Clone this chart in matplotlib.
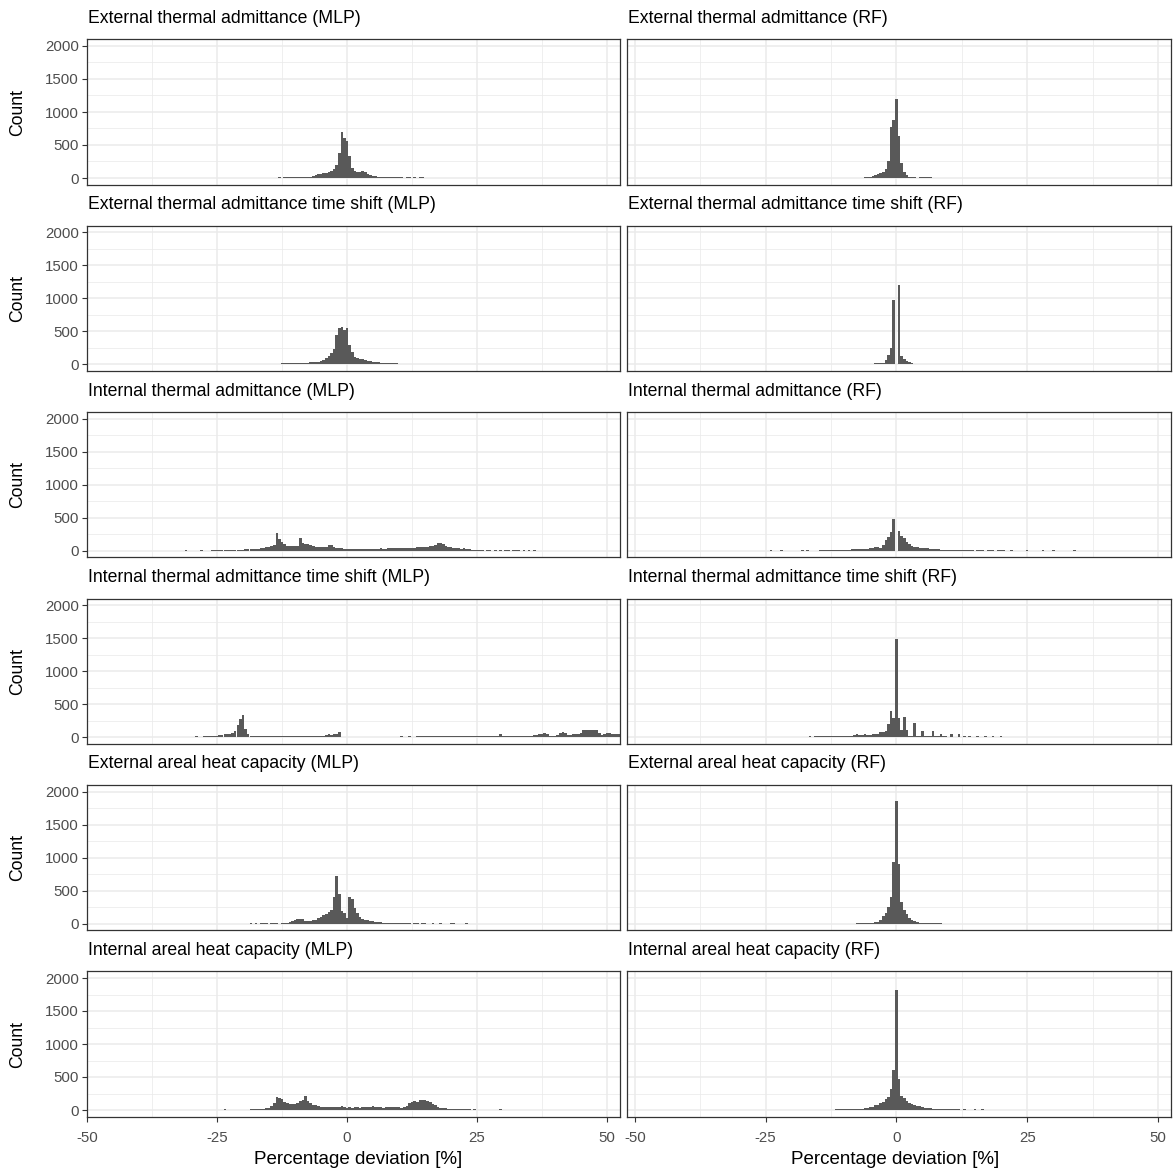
import matplotlib.pyplot as plt
import numpy as np

plt.rcParams["font.family"] = ["Liberation Sans", "DejaVu Sans"]
plt.rcParams["axes.unicode_minus"] = False

# histogram counts, bins 0.5 wide centred on multiples of 0.5
BIN = 0.5

titles = [
    "External thermal admittance (MLP)", "External thermal admittance (RF)",
    "External thermal admittance time shift (MLP)", "External thermal admittance time shift (RF)",
    "Internal thermal admittance (MLP)", "Internal thermal admittance (RF)",
    "Internal thermal admittance time shift (MLP)", "Internal thermal admittance time shift (RF)",
    "External areal heat capacity (MLP)", "External areal heat capacity (RF)",
    "Internal areal heat capacity (MLP)", "Internal areal heat capacity (RF)",
]

# first bin centre of every panel
starts = [-13.0, -6.0, -22.0, -10.5, -31.0, -24.0, -36.0, -24.5, -18.5, -7.5, -23.5, -11.5]

ext_adm_mlp = [8, 0, 8, 10, 8, 10, 12,
               12, 14, 15, 16, 18, 22,
               35, 45, 55, 62, 70,
               80, 95, 110, 130,
               200, 380, 690, 610, 560, 330, 150,
               100, 88, 95, 100, 85, 60, 40,
               30, 25, 20, 15, 14, 12, 12,
               10, 12, 10, 12, 10,
               0, 10, 12, 0, 10, 0, 12, 10]

ext_adm_rf = [8, 10, 15, 30, 45, 65, 80, 95, 130, 250, 780, 880, 1190,
              640, 230, 90, 40, 15, 10, 8, 0, 10, 12, 10, 12, 8]

ext_ts_mlp = [8, 0, 8, 0, 10, 0, 8, 10, 10,
              10, 12, 10, 12, 10, 12, 12, 12, 12,
              12, 14, 15, 16, 18, 18, 20, 22, 20, 24, 25,
              28, 30, 32, 35, 40, 48,
              70, 100, 130, 170, 240, 450, 545, 560, 520, 545, 290, 190,
              110, 95, 85, 75, 65, 58, 50, 42, 36, 32, 28, 25, 22, 20,
              18, 15, 14, 12, 12, 10, 10, 10, 8, 10, 8, 10, 0, 8, 10, 0, 8, 8,
              0, 8, 0, 8, 0, 8]

ext_ts_rf = [8, 0, 8, 8, 0, 8, 10, 10, 10, 10, 10, 12, 12, 14, 15,
             15, 25, 60, 140, 245, 975, 0, 1210, 125, 88, 45, 30, 15,
             12, 12, 10, 10, 10, 10, 10, 8, 8, 8, 8, 8, 0, 8, 8, 0, 8, 8, 8]

int_adm_mlp = [10, 0, 0, 0, 0, 0, 10, 0, 0, 0,
               8, 10, 10, 10, 12, 10, 12, 14, 12, 15,
               12, 14, 18, 20, 22, 25, 25, 28, 30, 35,
               45, 55, 62, 75, 90, 265, 175, 140, 105, 80,
               78, 75, 72, 80, 190, 120, 100, 105, 95, 70,
               65, 60, 55, 55, 60, 95, 85, 55, 45, 40,
               35, 30, 28, 30, 28, 32, 30, 28, 30, 32,
               30, 32, 28, 30, 32, 35, 32, 30, 35, 38,
               35, 38, 40, 38, 40, 45, 42, 48, 50, 55,
               58, 62, 55, 65, 70, 80, 95, 125, 120, 100,
               75, 65, 55, 50, 35, 40, 30, 35, 25, 30,
               15, 10, 10, 8, 10, 0, 8, 10, 0, 8,
               0, 10, 0, 8, 10, 0, 8, 10, 8, 0, 8,
               0, 10, 0, 8]

int_adm_rf = [10, 0, 0, 0, 10, 0, 0, 0, 0, 0,
              0, 0, 10, 0, 10, 0, 0, 0, 0, 10,
              10, 10, 10, 12, 12, 12, 14, 15, 16, 18,
              15, 20, 25, 22, 28, 30, 28, 32, 35, 45,
              60, 55, 48, 85, 160, 215, 290, 485, 0, 300,
              230, 190, 140, 100, 80, 60, 55, 50, 45, 38,
              35, 32, 28, 22, 20, 18, 15, 14, 12, 12,
              10, 10, 10, 10, 8, 10, 8, 10, 0, 10,
              8, 10, 0, 10, 10, 8, 0, 10, 8, 10,
              0, 0, 10, 0, 0, 0, 0, 0, 10, 0,
              0, 0, 0, 0, 10, 0, 0, 0, 8, 0,
              0, 0, 0, 0, 0, 0, 8]

int_ts_mlp = [8, 0, 8, 10, 0, 8, 10, 8, 0, 10, 10, 10, 8, 10, 12, 10,
              10, 12, 12, 14, 15, 20,
              25, 28, 40, 48, 50, 55,
              65, 90, 190, 280, 335, 130, 45, 25, 20, 22,
              20, 18, 22, 20, 25, 20, 18, 22, 20, 18,
              20, 18, 22, 20, 15, 18, 15, 15, 12, 15,
              12, 15, 12, 12, 15, 20, 40, 45, 40, 45,
              50, 85, 10, 8, 0, 10, 8,
              0, 8, 10, 0, 8, 10, 8, 0, 10, 8,
              10, 10, 0, 10, 10, 10, 8, 10, 12, 10,
              10, 12, 10, 10, 12, 12, 12, 12, 14, 12,
              14, 12, 14, 15, 14, 15, 14, 15, 18, 15,
              14, 15, 18, 15, 18, 14, 15, 18, 15, 20,
              15, 18, 15, 18, 14, 15, 45, 15, 18, 15,
              14, 15, 18, 20, 18, 22, 20, 25, 22, 28,
              35, 50, 55, 65, 45, 25, 22, 25, 40, 60,
              75, 60, 40, 35, 45, 50, 55, 60, 110, 115,
              115, 110, 112, 105, 60, 40, 55, 60,
              58, 55, 50, 48, 45]

int_ts_rf = [8, 8, 8, 0, 8, 10, 8, 10, 8, 10,
             10, 10, 10, 10, 10, 10, 12, 10, 12, 12,
             25, 12, 14, 12, 14, 15, 14, 15, 15, 18,
             15, 20, 22, 28, 50, 30, 35, 50, 40, 35,
             45, 50, 55, 75, 80, 95, 200, 390, 285, 1490,
             285, 105, 300, 105, 25, 20, 210, 25, 15, 90,
             15, 14, 12, 90, 15, 14, 55, 12, 12, 10,
             55, 10, 10, 45, 10, 25, 10, 25, 10, 10,
             25, 10, 8, 25, 8, 10, 12, 10, 8, 12,
             8, 10, 8, 10, 8, 8, 10, 8, 8, 10,
             8, 8, 10, 8, 8, 8, 8, 8, 8, 8,
             8, 8, 0, 8, 8, 8, 0, 8]

ext_ahc_mlp = [8, 0, 8, 0, 8, 10, 8, 0, 8, 10, 8, 0,
               10, 12, 15, 25, 35, 60, 65, 70, 72, 40,
               35, 45, 55, 62, 85, 100, 125, 145, 180, 200,
               400, 725, 450, 190, 160, 90, 400, 370, 240, 165,
               100, 65, 58, 50, 38, 32, 25, 20, 18, 15,
               14, 12, 12, 10, 10, 10, 10, 10, 8, 10,
               0, 8, 10, 0, 8, 8, 0, 0, 8, 0,
               0, 8, 0, 0, 0, 8, 8, 0, 0, 0, 0, 8]

ext_ahc_rf = [8, 8, 10, 8, 10, 10, 12, 20, 30, 60, 115, 165, 245, 400, 940,
              1855, 900, 330, 200, 140, 90, 60, 35, 20, 15, 12, 10, 10, 10, 8, 8, 8, 8]

int_ahc_mlp = [8, 0, 0, 0, 0, 0, 0, 0, 0, 0,
               8, 10, 8, 10, 15, 22, 25, 30, 60, 110,
               190, 175, 165, 120, 110, 90, 88, 95, 110, 140,
               145, 210, 140, 110, 80, 70, 55, 50, 45, 48,
               45, 42, 45, 40, 45, 60, 40, 35, 38, 35,
               40, 38, 35, 40, 42, 38, 45, 55, 42, 40,
               38, 35, 40, 38, 42, 50, 40, 38, 35, 42,
               60, 100, 120, 130, 115, 150, 155, 145, 130, 120,
               90, 70, 45, 35, 30, 25, 18, 14, 12, 14,
               10, 12, 10, 10, 8, 0, 8, 0, 0, 0,
               0, 0, 0, 0, 0, 0, 10]

int_ahc_rf = [8, 10, 8, 10, 10, 10, 12, 12, 15, 18,
              22, 28, 32, 42, 50, 70, 80, 100, 120, 170,
              200, 320, 600, 1820, 470, 215, 180, 140, 110, 90,
              80, 65, 55, 40, 35, 30, 25, 22, 18, 15,
              14, 14, 12, 10, 10, 10, 10, 8, 0, 10,
              0, 0, 0, 8, 0, 0, 8]

counts_all = [ext_adm_mlp, ext_adm_rf, ext_ts_mlp, ext_ts_rf,
              int_adm_mlp, int_adm_rf, int_ts_mlp, int_ts_rf,
              ext_ahc_mlp, ext_ahc_rf, int_ahc_mlp, int_ahc_rf]

x_ticks = [-50, -25, 0, 25, 50]
y_ticks = [0, 500, 1000, 1500, 2000]
x_lims = [(-50, 52.5), (-51.5, 52.5)]

W, H = 1176, 1172
col_x = [87, 627]
col_w = [533, 544]
row_top0, row_pitch, panel_h = 39.4, 186.4, 145.2

fig = plt.figure(figsize=(W / 100, H / 100), dpi=100)

for i, (title, start, counts) in enumerate(zip(titles, starts, counts_all)):
    r, c = divmod(i, 2)
    top = row_top0 + r * row_pitch
    ax = fig.add_axes([col_x[c] / W, 1 - (top + panel_h) / H, col_w[c] / W, panel_h / H])
    centers = start + BIN * np.arange(len(counts))
    ax.bar(centers, counts, width=BIN, color="#595959", linewidth=0)

    ax.set_xlim(*x_lims[c])
    ax.set_ylim(-100, 2100)
    ax.set_xticks(x_ticks)
    ax.set_xticklabels([str(v) for v in x_ticks])
    ax.set_xticks([-37.5, -12.5, 12.5, 37.5], minor=True)
    ax.set_yticks(y_ticks)
    ax.set_yticklabels([str(v) for v in y_ticks])
    ax.set_yticks([250, 750, 1250, 1750], minor=True)
    ax.set_axisbelow(True)
    ax.grid(which="major", color="#EBEBEB", lw=1.1)
    ax.grid(which="minor", color="#EBEBEB", lw=0.55)
    for s in ax.spines.values():
        s.set_color("#333333")
        s.set_linewidth(0.9)
    ax.tick_params(which="major", length=3.5, width=0.8, color="#333333",
                   labelsize=10.8, labelcolor="#4D4D4D", pad=2.5)
    ax.tick_params(which="minor", length=0)
    ax.tick_params(axis="x", pad=7)
    ax.tick_params(axis="y", left=(c == 0), labelleft=(c == 0))
    ax.tick_params(axis="x", bottom=(r == 5), labelbottom=(r == 5))

    fig.text((col_x[c] + 1) / W, 1 - (top - 21) / H, title,
             ha="left", va="center", fontsize=12.7)
    if c == 0:
        fig.text(18 / W, 1 - (top + panel_h / 2) / H, "Count", rotation=90,
                 ha="center", va="center", fontsize=12.7)

label_x = [358, 895]
for c in range(2):
    fig.text(label_x[c] / W, 1 - 1160 / H, "Percentage deviation [%]",
             ha="center", va="center", fontsize=13.5)

fig.savefig("out.png", dpi=100)
